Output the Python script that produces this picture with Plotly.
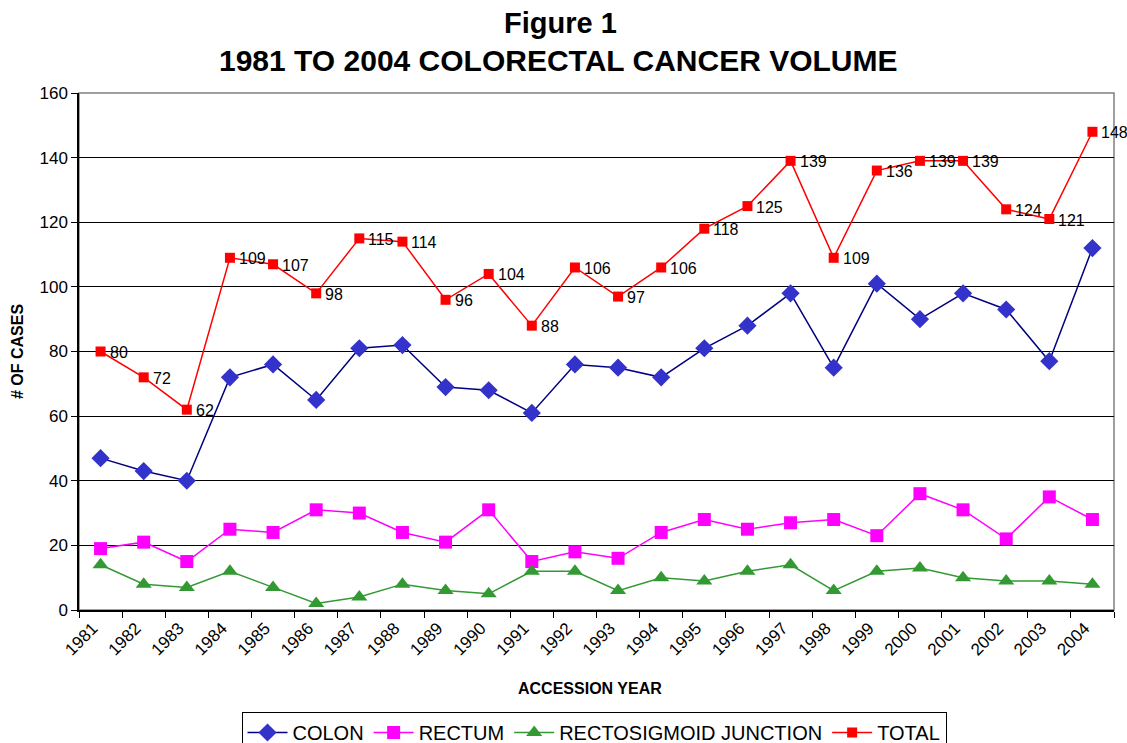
import plotly.graph_objects as go

years = [str(y) for y in range(1981, 2005)]
colon = [47, 43, 40, 72, 76, 65, 81, 82, 69, 68, 61, 76, 75, 72, 81, 88, 98, 75, 101, 90, 98, 93, 77, 112]
rectum = [19, 21, 15, 25, 24, 31, 30, 24, 21, 31, 15, 18, 16, 24, 28, 25, 27, 28, 23, 36, 31, 22, 35, 28]
rectosigmoid = [14, 8, 7, 12, 7, 2, 4, 8, 6, 5, 12, 12, 6, 10, 9, 12, 14, 6, 12, 13, 10, 9, 9, 8]
total = [80, 72, 62, 109, 107, 98, 115, 114, 96, 104, 88, 106, 97, 106, 118, 125, 139, 109, 136, 139, 139, 124, 121, 148]
title_lines = ["Figure 1", "1981 TO 2004 COLORECTAL CANCER VOLUME"]

FONT = "Liberation Sans, Arial, sans-serif"
xi = list(range(len(years)))

W, H = 1127, 743
L, R, T, B = 79, 13, 93, 133
PH = H - T - B
PW = W - L - R

def py(px):  # page pixel y -> paper y
    return (H - B - px) / PH

def pxx(px):  # page pixel x -> paper x
    return (px - L) / PW

fig = go.Figure()
fig.add_trace(go.Scatter(x=xi, y=colon, name="COLON", mode="lines+markers",
                         line=dict(color="#000080", width=1.5),
                         marker=dict(symbol="diamond", size=14, color="#3333CC")))
fig.add_trace(go.Scatter(x=xi, y=rectum, name="RECTUM", mode="lines+markers",
                         line=dict(color="#FF00FF", width=1.5),
                         marker=dict(symbol="square", size=13, color="#FF00FF")))
fig.add_trace(go.Scatter(x=xi, y=rectosigmoid, name="RECTOSIGMOID JUNCTION", mode="lines+markers",
                         line=dict(color="#339933", width=1.5),
                         marker=dict(symbol="triangle-up", size=14, color="#339933")))
fig.add_trace(go.Scatter(x=xi, y=total, name="TOTAL", mode="lines+markers",
                         line=dict(color="#FF0000", width=1.5),
                         marker=dict(symbol="square", size=10, color="#FF0000")))

label_annos = [dict(x=i, y=v, xref="x", yref="y", text=str(v), showarrow=False,
                    xanchor="left", yanchor="middle", xshift=7, yshift=-1,
                    font=dict(family=FONT, size=16, color="black"))
               for i, v in zip(xi, total)]

fig.update_layout(
    width=W, height=H,
    margin=dict(l=L, r=R, t=T, b=B, autoexpand=False),
    paper_bgcolor="white", plot_bgcolor="white",
    font=dict(family=FONT, color="black"),
    showlegend=True,
    legend=dict(orientation="h", x=pxx(594), xanchor="center", y=py(712), yanchor="top",
                bordercolor="black", borderwidth=1, bgcolor="white",
                font=dict(family=FONT, size=20, color="black"),
                itemwidth=40, tracegroupgap=0),
    xaxis=dict(range=[-0.5, len(years) - 0.5], tickmode="array",
               tickvals=[i - 0.18 for i in xi], ticktext=years,
               tickangle=-45, ticks="", tickfont=dict(family=FONT, size=17), automargin=False,
               showline=True, linecolor="black", linewidth=1.5, showgrid=False, zeroline=False,
               minor=dict(tickmode="linear", tick0=-0.5, dtick=1, ticks="outside", ticklen=6,
                          tickcolor="black", showgrid=False),
               title=dict(text="", font=dict(family=FONT, size=16))),
    yaxis=dict(range=[0, 160], dtick=20, tick0=0, ticks="outside", ticklen=6, tickcolor="black",
               tickfont=dict(family=FONT, size=17), automargin=False,
               showline=True, linecolor="black", linewidth=1.5,
               showgrid=True, gridcolor="black", gridwidth=1, zeroline=False,
               title=dict(text="<b># OF CASES</b>", font=dict(family=FONT, size=16), standoff=12)),
    shapes=[dict(type="rect", xref="paper", yref="paper", x0=0, x1=1, y0=0, y1=1,
                 line=dict(color="#808080", width=1.5), layer="below")],
    annotations=label_annos + [
        dict(text="<b>%s</b>" % title_lines[0], xref="paper", yref="paper", x=pxx(560), y=py(23),
             xanchor="center", yanchor="middle", showarrow=False,
             font=dict(family=FONT, size=29, color="black")),
        dict(text="<b>%s</b>" % title_lines[1], xref="paper", yref="paper", x=pxx(558), y=py(60),
             xanchor="center", yanchor="middle", showarrow=False,
             font=dict(family=FONT, size=30, color="black")),
        dict(text="<b>ACCESSION YEAR</b>", xref="paper", yref="paper", x=pxx(590), y=py(688),
             xanchor="center", yanchor="middle", showarrow=False,
             font=dict(family=FONT, size=16, color="black")),
    ],
)

fig.write_html("out.html",
               config={"displayModeBar": False},
               post_script="document.documentElement.style.overflow='hidden';"
                           "document.body.style.margin='0';"
                           "document.body.style.overflow='hidden';")
